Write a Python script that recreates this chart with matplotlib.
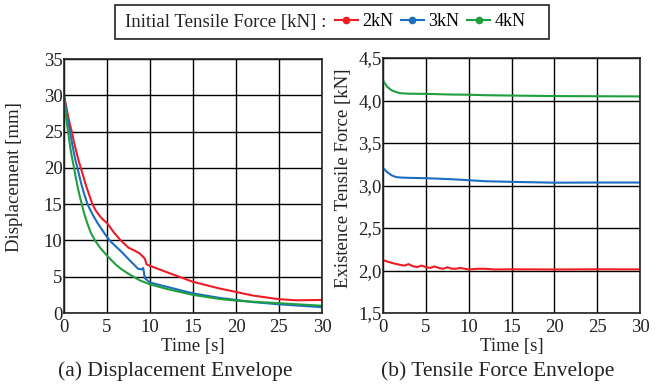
import matplotlib
matplotlib.use("Agg")
import matplotlib.pyplot as plt
from matplotlib.lines import Line2D
from matplotlib.patches import Rectangle
from matplotlib.ticker import FuncFormatter

plt.rcParams['font.family'] = ['Liberation Serif', 'DejaVu Serif']

# ---------------- data ----------------
series_labels = ["2kN", "3kN", "4kN"]
colors = ["#ee1c25", "#1b6ec2", "#1f9e3e"]
legend_title = "Initial Tensile Force [kN] :"

# (a) displacement envelope [mm]
t_red_d = [0, 0.2, 0.4, 0.65, 0.9, 1.15, 1.4, 1.65, 1.95, 2.25, 2.6, 2.95, 3.3, 3.7, 4.2, 4.6, 5, 5.8, 6.6, 7.5, 8.2, 8.8, 9.4, 9.6, 10, 12, 15, 18, 20, 22, 25, 27, 30]
d_red = [30, 28.8, 27.6, 26.2, 25, 23.6, 22.4, 21.2, 20, 18.8, 17.4, 16.2, 15, 14.1, 13.3, 12.8, 12.4, 11.1, 10, 9.0, 8.6, 8.2, 7.5, 6.7, 6.5, 5.6, 4.3, 3.4, 2.9, 2.4, 1.9, 1.75, 1.8]

t_blue_d = [0, 0.15, 0.3, 0.5, 0.7, 0.9, 1.1, 1.3, 1.56, 1.8, 2.1, 2.4, 2.73, 3.1, 3.5, 3.9, 4.3, 4.8, 5.3, 6, 6.8, 7.6, 8.2, 8.6, 9.0, 9.2, 9.3, 9.4, 10, 12, 15, 18, 20, 22, 25, 30]
d_blue = [30, 28.8, 27.6, 26.2, 25, 23.6, 22.4, 21.2, 20, 18.8, 17.4, 16.2, 15, 14.1, 13.2, 12.4, 11.7, 10.8, 10, 9.2, 8.3, 7.3, 6.6, 6.1, 6.0, 6.2, 5.6, 4.8, 4.2, 3.6, 2.7, 2.1, 1.8, 1.5, 1.2, 0.8]

t_green_d = [0, 0.1, 0.2, 0.33, 0.47, 0.63, 0.8, 0.98, 1.17, 1.38, 1.6, 1.83, 2.07, 2.35, 2.7, 3.1, 3.6, 4.2, 5, 6, 6.6, 7.5, 8.8, 10, 12, 15, 18, 20, 22, 25, 30]
d_green = [30, 28.8, 27.5, 26.2, 25, 23.6, 22.3, 21.1, 20, 18.6, 17.3, 16.1, 15, 13.7, 12.4, 11.1, 10, 9.0, 7.9, 6.7, 6.1, 5.4, 4.5, 3.95, 3.3, 2.5, 1.95, 1.7, 1.55, 1.35, 1.0]

# (b) tensile force envelope [kN]
t_red_f = [0, 1, 2, 2.5, 3, 3.5, 4, 4.5, 5, 5.5, 6, 6.5, 7, 7.5, 8, 8.5, 9, 10, 11, 12, 13, 15, 20, 25, 30]
f_red = [2.121, 2.09, 2.066, 2.058, 2.075, 2.05, 2.04, 2.058, 2.04, 2.03, 2.048, 2.03, 2.02, 2.038, 2.022, 2.02, 2.03, 2.012, 2.02, 2.02, 2.012, 2.014, 2.012, 2.014, 2.013]

t_blue_f = [0, 0.5, 1, 1.5, 2, 3, 5, 8, 10, 12, 15, 20, 25, 30]
f_blue = [3.207, 3.156, 3.12, 3.10, 3.094, 3.09, 3.086, 3.074, 3.062, 3.050, 3.043, 3.033, 3.035, 3.035]

t_green_f = [0, 0.5, 1, 1.5, 2, 3, 5, 8, 10, 12, 15, 20, 25, 30]
f_green = [4.234, 4.16, 4.12, 4.10, 4.086, 4.08, 4.078, 4.07, 4.068, 4.062, 4.058, 4.052, 4.05, 4.048]

x_ticks = [0, 5, 10, 15, 20, 25, 30]
yd_ticks = [0, 5, 10, 15, 20, 25, 30, 35]
yf_ticks = [1.5, 2.0, 2.5, 3.0, 3.5, 4.0, 4.5]

# ---------------- figure ----------------
fig = plt.figure(figsize=(6.64, 3.85), dpi=100)
W, H = 664, 385

def ax_rect(x0, x1, y0, y1):
    return [x0 / W, 1 - y1 / H, (x1 - x0) / W, (y1 - y0) / H]

ax1 = fig.add_axes(ax_rect(64, 322, 59, 313))
ax2 = fig.add_axes(ax_rect(383, 640, 58, 313))

fs_tick = 13.5
lw = 1.5
tc = '#222222'

for ax in (ax1, ax2):
    ax.grid(True, color='black', lw=1.0)
    ax.set_axisbelow(True)
    ax.tick_params(axis='y', length=0, labelsize=fs_tick, pad=1, colors=tc)
    ax.tick_params(axis='x', length=0, labelsize=fs_tick, pad=4.5, colors=tc)
    for s in ax.spines.values():
        s.set_color(tc)
        s.set_linewidth(1.2)
    ax.set_xlim(0, 30)
    ax.set_xticks(x_ticks)
    ax.set_xlabel("Time [s]", fontsize=fs_tick, labelpad=1.5, color=tc)

ax1.plot(t_red_d, d_red, color=colors[0], lw=lw)
ax1.plot(t_blue_d, d_blue, color=colors[1], lw=lw)
ax1.plot(t_green_d, d_green, color=colors[2], lw=lw)
ax1.set_ylim(0, 35)
ax1.set_yticks(yd_ticks)
ax1.set_ylabel("Displacement [mm]", fontsize=fs_tick, color=tc)
ax1.yaxis.set_label_coords(-0.16, 0.535)

ax2.plot(t_green_f, f_green, color=colors[2], lw=lw)
ax2.plot(t_blue_f, f_blue, color=colors[1], lw=lw)
ax2.plot(t_red_f, f_red, color=colors[0], lw=lw)
ax2.set_ylim(1.5, 4.5)
ax2.set_yticks(yf_ticks)
ax2.yaxis.set_major_formatter(FuncFormatter(lambda v, p: f"{v:.1f}".replace('.', ',')))
ax2.set_ylabel("Existence Tensile Force [kN]", fontsize=fs_tick, color=tc)
ax2.yaxis.set_label_coords(-0.12, 0.53)

# captions
fig.text(175 / W, 1 - 371 / H, "(a) Displacement Envelope", ha='center', va='center', fontsize=15.5, color=tc)
fig.text(498 / W, 1 - 371 / H, "(b) Tensile Force Envelope", ha='center', va='center', fontsize=15.5, color=tc)

# legend box
fig.patches.append(Rectangle((115 / W, 1 - 39 / H), (549 - 115) / W, 34 / H,
                             transform=fig.transFigure, fill=False, edgecolor=tc, lw=1.2))
fig.text(125 / W, 1 - 22 / H, legend_title, ha='left', va='center', fontsize=13.5, color=tc)
handles = [Line2D([], [], color=c, lw=1.5, marker='o', markersize=4.5) for c in colors]
fig.legend(handles, series_labels, loc='center left', bbox_to_anchor=(335 / W, 1 - 22 / H),
           ncol=3, frameon=False, fontsize=13, handlelength=1.25, handletextpad=0.25,
           columnspacing=0.45, borderaxespad=0, borderpad=0)

fig.savefig("out.png", dpi=100)
